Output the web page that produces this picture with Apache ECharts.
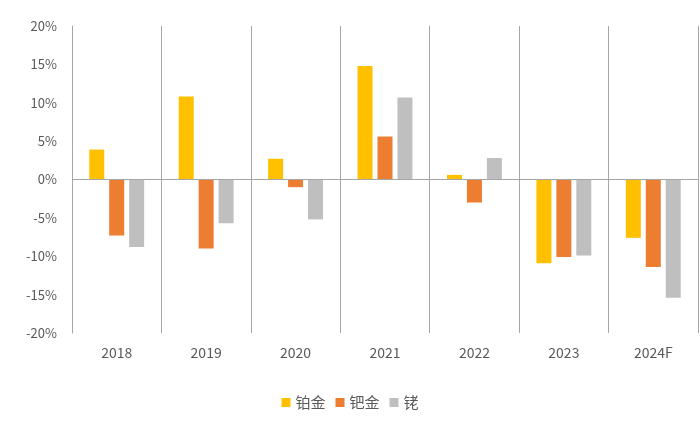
<!DOCTYPE html>
<html><head><meta charset="utf-8">
<script src="https://cdn.jsdelivr.net/npm/echarts@6/dist/echarts.min.js"></script>
<style>html,body{margin:0;padding:0;background:#fff}#c{width:700px;height:433px}</style>
</head><body><div id="c"></div>
<script>
var categories = ['2018','2019','2020','2021','2022','2023','2024F'];
var platinum = [3.9, 10.8, 2.7, 14.8, 0.6, -10.9, -7.6];
var palladium = [-7.3, -9.0, -1.0, 5.6, -3.0, -10.1, -11.4];
var rhodium = [-8.8, -5.7, -5.2, 10.7, 2.8, -9.9, -15.4];
var seriesNames = ['铂金','钯金','铑'];
var yTicks = {min: -20, max: 20, interval: 5};

var chart = echarts.init(document.getElementById('c'));
var font = '"Noto Sans CJK SC", "Liberation Sans", sans-serif';
chart.setOption({
  animation: false,
  grid: {left: 72, right: 2, top: 26, bottom: 100},
  legend: {
    bottom: 18, left: 'center',
    icon: 'rect', itemWidth: 9, itemHeight: 9, itemGap: 10,
    textStyle: {color: '#595959', fontSize: 15, fontFamily: font},
    data: seriesNames
  },
  xAxis: {
    type: 'category', data: categories,
    axisLine: {show: false, onZero: false},
    axisTick: {show: false},
    axisLabel: {color: '#595959', fontSize: 14, margin: 13, fontFamily: font},
    splitLine: {show: true, lineStyle: {color: '#A6A6A6', width: 1}}
  },
  yAxis: {
    type: 'value', min: yTicks.min, max: yTicks.max, interval: yTicks.interval,
    axisLine: {show: true, lineStyle: {color: '#A6A6A6'}},
    axisTick: {show: false},
    splitLine: {show: false},
    axisLabel: {color: '#595959', fontSize: 13, margin: 15, fontFamily: font,
      formatter: function(v){return v + '%';}}
  },
  series: [
    {name: seriesNames[0], type: 'bar', data: platinum, barWidth: 15, barGap: '33%',
     itemStyle: {color: '#FFC000'},
     markLine: {silent: true, symbol: 'none', label: {show: false},
       lineStyle: {color: '#A6A6A6', type: 'solid', width: 1}, data: [{yAxis: 0}]}},
    {name: seriesNames[1], type: 'bar', data: palladium, barWidth: 15, barGap: '33%',
     itemStyle: {color: '#ED7D31'}},
    {name: seriesNames[2], type: 'bar', data: rhodium, barWidth: 15, barGap: '33%',
     itemStyle: {color: '#BFBFBF'}}
  ]
});
</script></body></html>
